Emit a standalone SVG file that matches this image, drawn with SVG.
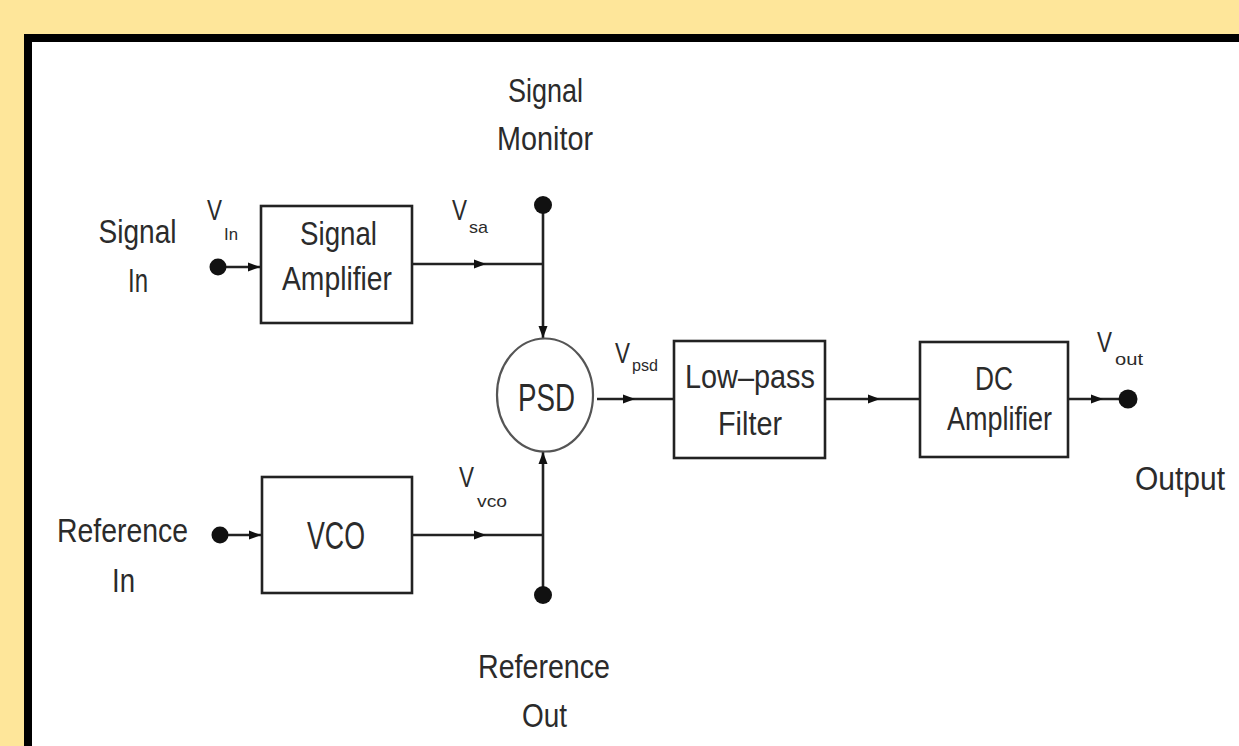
<svg xmlns="http://www.w3.org/2000/svg" xmlns:xlink="http://www.w3.org/1999/xlink" width="1239" height="746" viewBox="0 0 1239 746">
<style>
.t{font-family:"Liberation Sans",Arial,sans-serif;fill:#2b2b2b;text-anchor:middle;font-size:34px}
.big{font-size:39px}
.v{font-family:"Liberation Sans",Arial,sans-serif;fill:#2b2b2b;font-size:29px}
.s{font-family:"Liberation Sans",Arial,sans-serif;fill:#2b2b2b;font-size:17px}
.box{fill:#fff;stroke:#222;stroke-width:2.6}
.ln{fill:none;stroke:#222;stroke-width:2.6}
.dot{fill:#111}
</style>
<defs>
<path id="ah" d="M0,0 L-12,-4.5 L-12,4.5 Z" fill="#111"/>
</defs>
<rect x="0" y="0" width="1239" height="746" fill="#FEE69A"/>
<rect x="28" y="38" width="1300" height="800" fill="#fff" stroke="#000" stroke-width="8"/>

<g id="connectors">
<line class="ln" x1="218" y1="267" x2="261" y2="267"/>
<use xlink:href="#ah" transform="translate(260,267)"/>
<line class="ln" x1="411" y1="264" x2="543" y2="264"/>
<use xlink:href="#ah" transform="translate(486,264)"/>
<line class="ln" x1="543" y1="205" x2="543" y2="338"/>
<use xlink:href="#ah" transform="translate(543,338) rotate(90)"/>
<line class="ln" x1="220" y1="535" x2="262" y2="535"/>
<use xlink:href="#ah" transform="translate(261,535)"/>
<line class="ln" x1="412" y1="535" x2="543" y2="535"/>
<use xlink:href="#ah" transform="translate(486,535)"/>
<line class="ln" x1="543" y1="595" x2="543" y2="452"/>
<use xlink:href="#ah" transform="translate(543,452) rotate(-90)"/>
<line class="ln" x1="597" y1="399" x2="674" y2="399"/>
<use xlink:href="#ah" transform="translate(635,399)"/>
<line class="ln" x1="825" y1="399" x2="920" y2="399"/>
<use xlink:href="#ah" transform="translate(880,399)"/>
<line class="ln" x1="1068" y1="399" x2="1128" y2="399"/>
<use xlink:href="#ah" transform="translate(1103,399)"/>
</g>

<g id="signal-in">
<circle class="dot" cx="218" cy="267" r="8.5"/>
<text class="t" x="137.5" y="243" textLength="78" lengthAdjust="spacingAndGlyphs">Signal</text>
<text class="t" x="138" y="292" textLength="20" lengthAdjust="spacingAndGlyphs">In</text>
<text class="v" x="207" y="220" textLength="15" lengthAdjust="spacingAndGlyphs">V</text>
<text class="s" x="224" y="240" textLength="14" lengthAdjust="spacingAndGlyphs">In</text>
</g>

<g id="signal-amplifier">
<rect class="box" x="261" y="206" width="151" height="117"/>
<text class="t" x="338.5" y="245" textLength="77" lengthAdjust="spacingAndGlyphs">Signal</text>
<text class="t" x="337" y="290" textLength="110" lengthAdjust="spacingAndGlyphs">Amplifier</text>
<text class="v" x="452" y="220" textLength="15" lengthAdjust="spacingAndGlyphs">V</text>
<text class="s" x="469" y="233" textLength="19" lengthAdjust="spacingAndGlyphs">sa</text>
</g>

<g id="signal-monitor">
<circle class="dot" cx="543" cy="205" r="9"/>
<text class="t" x="545.5" y="102" textLength="75" lengthAdjust="spacingAndGlyphs">Signal</text>
<text class="t" x="545" y="150" textLength="96" lengthAdjust="spacingAndGlyphs">Monitor</text>
</g>

<g id="psd">
<ellipse cx="545" cy="395" rx="48" ry="56.5" fill="#fff" stroke="#555" stroke-width="2.2"/>
<text class="t big" x="546.5" y="411" textLength="57" lengthAdjust="spacingAndGlyphs">PSD</text>
<text class="v" x="615" y="363" textLength="15" lengthAdjust="spacingAndGlyphs">V</text>
<text class="s" x="632" y="371" textLength="26" lengthAdjust="spacingAndGlyphs">psd</text>
</g>

<g id="low-pass-filter">
<rect class="box" x="674" y="341" width="151" height="117"/>
<text class="t" x="750" y="388" textLength="130" lengthAdjust="spacingAndGlyphs">Low–pass</text>
<text class="t" x="750" y="435" textLength="64" lengthAdjust="spacingAndGlyphs">Filter</text>
</g>

<g id="dc-amplifier">
<rect class="box" x="920" y="342" width="148" height="115"/>
<text class="t" x="994" y="390" textLength="38" lengthAdjust="spacingAndGlyphs">DC</text>
<text class="t" x="999.5" y="430" textLength="105" lengthAdjust="spacingAndGlyphs">Amplifier</text>
</g>

<g id="output">
<circle class="dot" cx="1128" cy="399" r="9.5"/>
<text class="v" x="1097" y="352" textLength="15" lengthAdjust="spacingAndGlyphs">V</text>
<text class="s" x="1115" y="365" textLength="28" lengthAdjust="spacingAndGlyphs">out</text>
<text class="t" x="1180" y="490" textLength="90" lengthAdjust="spacingAndGlyphs">Output</text>
</g>

<g id="reference-in">
<circle class="dot" cx="220" cy="535" r="8.5"/>
<text class="t" x="122.5" y="542" textLength="131" lengthAdjust="spacingAndGlyphs">Reference</text>
<text class="t" x="123.5" y="592" textLength="23" lengthAdjust="spacingAndGlyphs">In</text>
</g>

<g id="vco">
<rect class="box" x="262" y="477" width="150" height="116"/>
<text class="t big" x="336" y="549" textLength="58" lengthAdjust="spacingAndGlyphs">VCO</text>
<text class="v" x="459" y="487" textLength="15" lengthAdjust="spacingAndGlyphs">V</text>
<text class="s" x="477" y="507" textLength="30" lengthAdjust="spacingAndGlyphs">vco</text>
</g>

<g id="reference-out">
<circle class="dot" cx="543" cy="595" r="9"/>
<text class="t" x="544" y="678" textLength="132" lengthAdjust="spacingAndGlyphs">Reference</text>
<text class="t" x="544.5" y="727" textLength="45" lengthAdjust="spacingAndGlyphs">Out</text>
</g>
</svg>
